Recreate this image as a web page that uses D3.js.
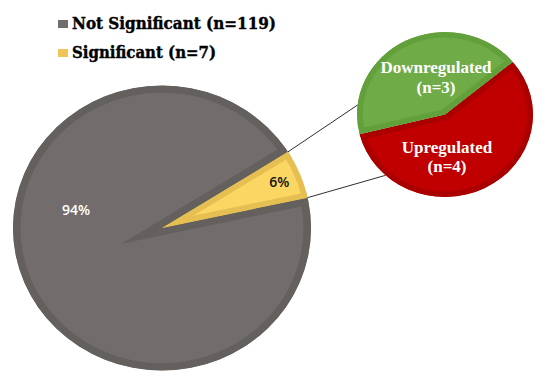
<!DOCTYPE html>
<html><head><meta charset="utf-8">
<script src="https://cdn.jsdelivr.net/npm/d3@7"></script>
<style>body{margin:0;background:#fff}svg{display:block}</style>
</head><body><svg id="c" width="550" height="380"></svg>
<script>
// ---- data ----
const mainCategories = ["Not Significant (n=119)", "Significant (n=7)"];
const mainValues = [119, 7];
const mainLabels = ["94%", "6%"];
const subCategories = ["Upregulated", "Downregulated"];
const subCounts = [4, 3];
const subLabels = ["(n=4)", "(n=3)"];

// ---- layout / style ----
const deg = Math.PI / 180;
const svg = d3.select("#c");
const defs = svg.append("defs");

const mainFill = ["#726d6c", "#fad663"];
const mainStroke = ["#64605e", "#e6bf52"];
const subFill = ["#c00000", "#6fab46"];
const subStroke = ["#ab0000", "#61a03b"];

const M = {cx: 162, cy: 228, r: 142.5, sx: 1.046, start: 77.7 * deg};
const S = {cx: 445, cy: 114.5, r: 82.5, sx: 1.067, start: 50.4 * deg};

// main pie
const mainPie = d3.pie().sort(null).startAngle(M.start).endAngle(M.start + 2 * Math.PI)(mainValues);
const gM = svg.append("g").attr("transform", `translate(${M.cx},${M.cy}) scale(${M.sx},1)`);
const fullArc = d3.arc().innerRadius(0).outerRadius(M.r);

defs.append("clipPath").attr("id", "clipDisc").append("circle").attr("r", M.r);
gM.append("path").attr("d", fullArc(mainPie[0])).attr("clip-path", "url(#clipDisc)")
  .attr("fill", mainFill[0]).attr("stroke", mainStroke[0])
  .attr("stroke-width", 14.5).attr("stroke-miterlimit", 30).attr("stroke-linejoin", "miter");

function clippedSlice(g, d, arcGen, fill, stroke, sw, id) {
  defs.append("clipPath").attr("id", id).append("path").attr("d", arcGen(d));
  g.append("path").attr("d", arcGen(d)).attr("clip-path", `url(#${id})`)
    .attr("fill", fill).attr("stroke", stroke).attr("stroke-width", sw)
    .attr("stroke-linejoin", "miter").attr("stroke-miterlimit", 30);
}
clippedSlice(gM, mainPie[1], fullArc, mainFill[1], mainStroke[1], 11, "clipY");

// sub pie
const subPie = d3.pie().sort(null).startAngle(S.start).endAngle(S.start + 2 * Math.PI)(subCounts);
const gS = svg.append("g").attr("transform", `translate(${S.cx},${S.cy}) scale(${S.sx},1)`);
const subArc = d3.arc().innerRadius(0).outerRadius(S.r);
subPie.forEach((d, i) => clippedSlice(gS, d, subArc, subFill[i], subStroke[i], 11, "clipS" + i));

// connector lines
function pt(P, a, r) { return [P.cx + Math.sin(a) * r * P.sx, P.cy - Math.cos(a) * r]; }
const ySlice = mainPie[1];
const conn = [
  [pt(M, ySlice.startAngle, M.r), pt(S, 276.6 * deg, S.r)],
  [pt(M, ySlice.endAngle, M.r), pt(S, 222.5 * deg, S.r)]
];
svg.selectAll("line.conn").data(conn).join("line").attr("class", "conn")
  .attr("x1", d => d[0][0]).attr("y1", d => d[0][1])
  .attr("x2", d => d[1][0]).attr("y2", d => d[1][1])
  .attr("stroke", "#2f2f2f").attr("stroke-width", 1);

// main pie labels
svg.append("text").attr("x", 76).attr("y", 215).attr("text-anchor", "middle")
  .attr("font-family", "'Open Sans', sans-serif").attr("font-weight", 600).attr("font-size", 14)
  .attr("fill", "#ffffff").text(mainLabels[0]);
const yc = pt(M, (ySlice.startAngle + ySlice.endAngle) / 2, M.r * 0.85);
svg.append("text").attr("x", yc[0]).attr("y", yc[1] + 5).attr("text-anchor", "middle")
  .attr("font-family", "'Open Sans', sans-serif").attr("font-weight", 600).attr("font-size", 14)
  .attr("fill", "#111111").text(mainLabels[1]);

// sub pie labels
const subText = [
  {x: S.cx + 2, y1: 153, y2: 172},
  {x: S.cx - 9, y1: 73, y2: 93}
];
subCategories.forEach((c, i) => {
  const t = svg.append("text").attr("text-anchor", "middle")
    .attr("font-family", "'Liberation Serif', 'Times New Roman', serif").attr("font-weight", "bold")
    .attr("font-size", 17).attr("fill", "#ffffff");
  t.append("tspan").attr("x", subText[i].x).attr("y", subText[i].y1).text(c);
  t.append("tspan").attr("x", subText[i].x).attr("y", subText[i].y2).text(subLabels[i]);
});

// legend
const legY = [29, 58];
const legW = [204, 144];
const legColors = ["#726d6c", "#eec556"];
mainCategories.forEach((c, i) => {
  svg.append("rect").attr("x", 58).attr("y", legY[i] - 9).attr("width", 10).attr("height", 8)
    .attr("fill", legColors[i]);
  svg.append("text").attr("x", 72).attr("y", legY[i])
    .attr("font-family", "'DejaVu Serif', serif").attr("font-weight", "bold").attr("font-size", 16)
    .attr("textLength", legW[i]).attr("lengthAdjust", "spacingAndGlyphs")
    .attr("stroke", "#000").attr("stroke-width", 0.4)
    .attr("fill", "#000").text(c);
});
</script></body></html>
